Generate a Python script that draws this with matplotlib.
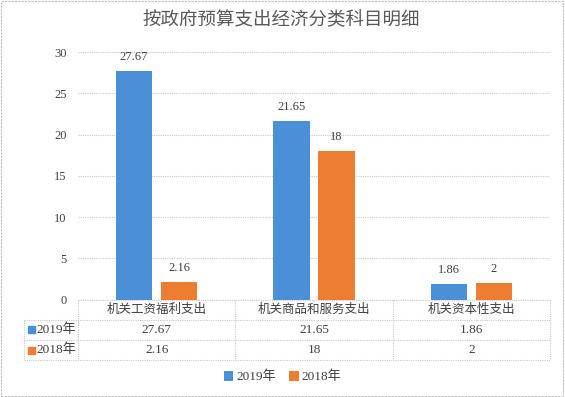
import matplotlib.pyplot as plt
import matplotlib.transforms as mtrans
import numpy as np

plt.rcParams['font.family'] = ['Noto Sans CJK SC', 'DejaVu Sans']

categories = ['机关工资福利支出', '机关商品和服务支出', '机关资本性支出']
series_names = ['2019年', '2018年']
values_2019 = [27.67, 21.65, 1.86]
values_2018 = [2.16, 18, 2]
value_text_2019 = ['27.67', '21.65', '1.86']
value_text_2018 = ['2.16', '18', '2']
yticks = [0, 5, 10, 15, 20, 25, 30]
title = '按政府预算支出经济分类科目明细'

blue = '#4a90d9'
orange = '#ed7d31'
grid_c = '#c8c8c8'
text_c = '#404040'
num_font = 'Liberation Serif'

W, H = 565, 397
fig = plt.figure(figsize=(5.65, 3.97), dpi=100)
ax_l, ax_r, ax_t, ax_b = 78, 550, 52.3, 299.5
ax = fig.add_axes([ax_l / W, 1 - ax_b / H, (ax_r - ax_l) / W, (ax_b - ax_t) / H])
aw, ah = ax_r - ax_l, ax_b - ax_t

x = np.arange(len(categories))
w = 0.23
off = 0.143
b1 = ax.bar(x - off, values_2019, w, color=blue, zorder=3)
b2 = ax.bar(x + off, values_2018, w, color=orange, zorder=3)
for bars, labels in [(b1, value_text_2019), (b2, value_text_2018)]:
    for b, t in zip(bars, labels):
        ax.text(b.get_x() + b.get_width() / 2, b.get_height() + 1.7, t,
                ha='center', va='center', fontsize=9, family=num_font, color=text_c)

ax.set_xlim(-0.5, len(categories) - 0.5)
ax.set_ylim(0, 30)
ax.set_yticks(yticks)
ax.set_yticklabels([str(v) for v in yticks], family=num_font, fontsize=9, color=text_c)
ax.tick_params(axis='y', length=0, pad=8)
ax.set_xticks([])
ax.yaxis.grid(True, color=grid_c, linestyle=(0, (1, 1)), linewidth=0.8, zorder=0)
for s in ax.spines.values():
    s.set_visible(False)

# data table under the axis
row_h = 20.2 / ah  # axes fraction
tr = mtrans.blended_transform_factory(ax.transData, ax.transAxes)
line_kw = dict(color=grid_c, linestyle=(0, (1, 1)), linewidth=0.8, clip_on=False,
               transform=ax.transAxes)
label_left = (24 - ax_l) / aw
ax.plot([0, 1], [0, 0], **line_kw)
for i in range(1, 4):
    ax.plot([label_left, 1], [-i * row_h, -i * row_h], **line_kw)
for xv in [0, 1 / 3, 2 / 3, 1]:
    ax.plot([xv, xv], [0, -3 * row_h], **line_kw)
ax.plot([label_left, label_left], [-row_h, -3 * row_h], **line_kw)

for i, c in enumerate(categories):
    ax.text(x[i], -0.5 * row_h, c, transform=tr, ha='center', va='center',
            fontsize=9, color=text_c)
sq_w, sq_h = 7 / aw, 7 / ah
for r, (name, vals, col) in enumerate([(series_names[0], value_text_2019, blue),
                                       (series_names[1], value_text_2018, orange)]):
    yy = -(1.5 + r) * row_h
    for i, v in enumerate(vals):
        ax.text(x[i], yy, v, transform=tr, ha='center', va='center',
                fontsize=9.5, family=num_font, color=text_c)
    ax.add_patch(plt.Rectangle((label_left + 4 / aw, yy - sq_h / 2), sq_w, sq_h,
                               transform=ax.transAxes, color=col, clip_on=False))
    ax.text(label_left + 12 / aw, yy, name, transform=ax.transAxes, ha='left', va='center',
            fontsize=9.5, color=text_c, family=[num_font, 'Noto Sans CJK SC'])

# legend
fig.legend([b1, b2], series_names, loc='center', bbox_to_anchor=(0.5, 1 - 377 / H),
           ncol=2, frameon=False, handlelength=0.75, handleheight=0.75,
           handletextpad=0.2, columnspacing=1.0, labelcolor=text_c,
           prop={'family': [num_font, 'Noto Sans CJK SC'], 'size': 9.5})

fig.text(281 / W, 1 - 20 / H, title, ha='center', va='center', fontsize=13.3, color='#595959')

# outer border
fig.patches.append(plt.Rectangle((0.002, 0.003), 0.995, 0.994, transform=fig.transFigure,
                                 fill=False, edgecolor='#bfbfbf', linestyle=(0, (2, 1)),
                                 linewidth=0.8))

fig.savefig('out.png', dpi=100)
